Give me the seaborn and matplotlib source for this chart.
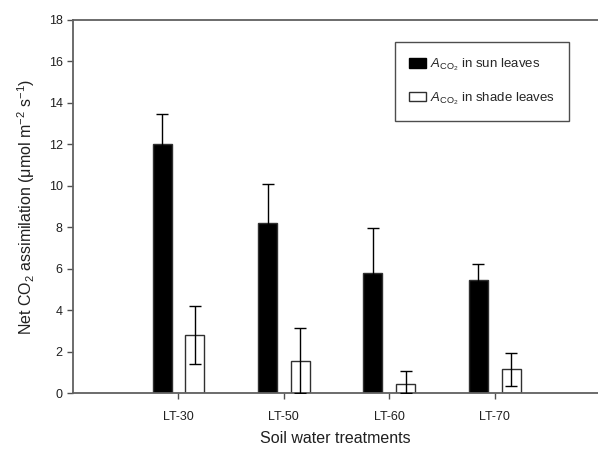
import numpy as np
import pandas as pd
import matplotlib
matplotlib.use('Agg')
import matplotlib.pyplot as plt
from matplotlib.patches import Patch
import seaborn as sns

treatments = ['LT-30', 'LT-50', 'LT-60', 'LT-70']
sun_mean = [12.0, 8.2, 5.8, 5.45]
sun_sd = [1.45, 1.87, 2.14, 0.76]
shade_mean = [2.8, 1.55, 0.44, 1.15]
shade_sd = [1.4, 1.58, 0.64, 0.8]
leaf_types = ['sun', 'shade']

sns.set_style('ticks')
plt.rcParams['font.family'] = ['Liberation Sans', 'DejaVu Sans']
plt.rcParams['mathtext.fontset'] = 'custom'
plt.rcParams['mathtext.rm'] = 'Liberation Sans'
plt.rcParams['mathtext.it'] = 'Liberation Sans:italic'

df = pd.DataFrame({
    'treatment': treatments * 2,
    'leaf': ['sun'] * 4 + ['shade'] * 4,
    'value': sun_mean + shade_mean,
})

fig = plt.figure(figsize=(5.98, 4.5), dpi=100)
ax = fig.add_axes([73 / 598, 1 - 393 / 450, 1 - 73 / 598, (393 - 20) / 450])

sns.barplot(data=df, x='treatment', y='value', hue='leaf', hue_order=leaf_types,
            palette={'sun': 'black', 'shade': 'white'}, width=0.62, gap=0.42,
            edgecolor='#303030', linewidth=1.0, errorbar=None, legend=False, ax=ax)

# error bars at bar centres
bars = ax.patches[:8]
centres = [p.get_x() + p.get_width() / 2 for p in bars]
heights = [p.get_height() for p in bars]
sds = sun_sd + shade_sd
for c, h, s in zip(centres, heights, sds):
    lo = min(s, h)
    ax.errorbar(c, h, yerr=[[lo], [s]], fmt='none', ecolor='black',
                elinewidth=1.0, capsize=4, capthick=1.0, zorder=3)

ax.set_xlim(-1.0, 3.98)
ax.set_ylim(0, 18)
ax.set_yticks(np.arange(0, 19, 2))
ax.tick_params(axis='both', direction='out', length=4, width=1, color='#505050',
               labelsize=9, labelcolor='#202020')
ax.tick_params(axis='x', pad=9)
for side in ['left', 'top', 'bottom']:
    ax.spines[side].set_color('#606060')
    ax.spines[side].set_linewidth(1.3)
ax.spines['right'].set_visible(False)

ax.set_xlabel('Soil water treatments', fontsize=11.5, color='#202020', labelpad=6)
ax.set_ylabel(r'Net CO$_2$ assimilation ($\mathrm{\mu}$mol m$^{-2}$ s$^{-1}$)',
              fontsize=11.5, color='#202020', labelpad=8)

handles = [Patch(facecolor='black', edgecolor='black'),
           Patch(facecolor='white', edgecolor='#303030')]
labels = [r'$\mathit{A}_{\mathrm{CO_2}}$ in sun leaves',
          r'$\mathit{A}_{\mathrm{CO_2}}$ in shade leaves']
leg = ax.legend(handles, labels, loc='upper right', bbox_to_anchor=(0.945, 0.941),
                borderaxespad=0, frameon=True, fancybox=False, fontsize=9.5,
                handlelength=1.25, handleheight=0.7, handletextpad=0.3,
                labelspacing=1.3, borderpad=1.1)
leg.get_frame().set_edgecolor('#202020')
leg.get_frame().set_linewidth(1.0)

fig.savefig('out.png', dpi=100)
